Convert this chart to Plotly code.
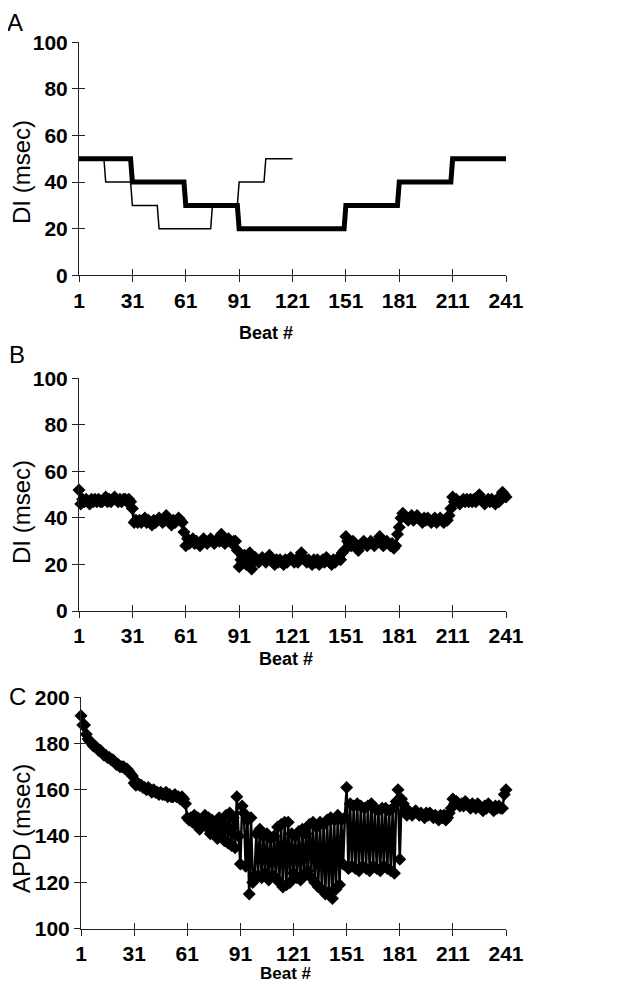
import plotly.graph_objects as go

# ---------------- Panel A: pacing protocol (DI steps) ----------------
protocol_beats = [1, 30, 31, 60, 61, 90, 91, 150, 151, 180, 181, 210, 211, 241]
protocol_di = [50, 50, 40, 40, 30, 30, 20, 20, 30, 30, 40, 40, 50, 50]
short_beats = [1, 15, 16, 30, 31, 45, 46, 75, 76, 90, 91, 105, 106, 121]
short_di = [50, 50, 40, 40, 30, 30, 20, 20, 30, 30, 40, 40, 50, 50]

# ---------------- Panel B: measured DI ----------------
di_measured = (
    [52, 46]
    + [48, 47, 48, 47, 46, 48, 47, 48, 47, 48, 47, 47, 48, 49, 47, 48, 47, 48, 49, 48, 47, 48, 47, 48, 48, 47, 48, 47]
    + [44, 38]
    + [39, 38, 39, 38, 39, 40, 38, 39, 38, 37, 39, 38, 39, 40, 39, 38, 39, 41, 40, 38, 37, 39, 38, 39, 40, 39]
    + [38, 34]
    + [28, 31]
    + [29, 30, 31, 29, 30, 29, 28, 30, 31, 30, 29, 30, 31, 30, 29, 30, 31, 30, 33, 30, 29, 30, 31, 30, 29, 30, 30]
    + [26, 19, 22, 21, 24, 20, 22, 25, 18, 21, 23]
    + [22, 21, 22, 23, 22, 21, 22, 24, 22, 21, 20, 22, 21, 22, 21, 20, 22, 21, 22, 23, 22, 21, 22, 21, 22, 25,
       23, 22, 21, 22, 21, 20, 22, 21, 22, 20, 21, 22, 21, 23, 22, 21, 20, 22, 21, 22, 23]
    + [22, 25, 26, 32, 30]
    + [29, 28, 30, 29, 27, 26, 28, 29, 30, 29, 28, 29, 30, 29, 28, 29, 30, 32, 29, 28, 29, 30, 29, 28, 29]
    + [27, 28, 33, 36, 40, 42, 41]
    + [40, 39, 40, 41, 39, 40, 41, 40, 39, 38, 40, 39, 40, 39, 38, 39, 40, 38, 39, 40, 39, 38, 39]
    + [39, 41, 44, 49, 47]
    + [48, 47, 46, 47, 48, 47, 48, 47, 48, 47, 48, 47, 49, 50, 48, 47, 46, 47, 48, 47, 48, 47, 46, 48]
    + [47, 48, 51, 50, 49]
)

# ---------------- Panel C: measured APD ----------------
apd_measured = (
    [192, 188, 188, 184, 182, 181, 180, 179, 179, 178, 177, 177, 176, 175, 175, 174, 174, 173, 173, 172,
     171, 171, 170, 170, 170, 169, 169, 168, 167, 166, 163, 162]
    + [163, 162, 162, 161, 161, 160, 161, 160, 159, 160, 159, 159, 158, 159, 158, 158, 159, 157, 158, 157,
       157, 158, 157, 157, 156, 157, 156]
    + [154, 148]
    + [147, 148, 146, 149, 145, 148, 143, 147, 146, 149, 144, 148, 141, 147, 143, 146, 139, 148, 142, 147,
       138, 149, 137, 150, 136, 148, 135]
    + [157, 140, 128, 153, 150, 127, 147, 115, 148, 120, 123]
    + [141, 123, 143, 122, 140, 124, 141, 121, 139, 123, 140, 122, 144, 120, 145, 118, 146, 119, 146, 120,
       141, 124, 140, 122, 142, 121, 143, 123, 141, 125, 145, 122, 146, 120, 144, 118, 146, 117, 145, 115,
       147, 116, 148, 113, 147, 117, 149, 119, 147, 128, 148]
    + [161, 126]
    + [154, 127, 153, 126, 154, 125, 153, 127, 152, 126, 153, 125, 154, 127, 152, 126, 151, 125, 152, 127,
       152, 126, 151, 125, 152, 124]
    + [155, 160, 130, 156, 154, 151, 149]
    + [151, 150, 149, 150, 151, 150, 149, 150, 149, 148, 150, 149, 150, 149, 148, 149, 148, 147, 149, 148,
       149, 147]
    + [148, 150, 152, 156, 154]
    + [155, 154, 153, 154, 153, 155, 154, 153, 152, 154, 153, 152, 154, 153, 152, 151, 153, 152, 154, 153,
       152, 151, 153, 152]
    + [153, 152, 152, 158, 160]
)

beats_b = list(range(1, len(di_measured) + 1))
beats_c = list(range(1, len(apd_measured) + 1))

tick_beats = [1, 31, 61, 91, 121, 151, 181, 211, 241]
di_ticks = [0, 20, 40, 60, 80, 100]
apd_ticks = [100, 120, 140, 160, 180, 200]

FONT = "Liberation Sans, Arial, sans-serif"
AXC = "#222222"
# the page body has an 8px margin, so the figure is sized to fill the rest of the window
OFF = 8
W, H = 626 - OFF, 983 - OFF

def px_x(p):
    return (p - OFF) / W

def px_y(p):
    return 1 - (p - OFF) / H

fig = go.Figure()

# Panel A
fig.add_trace(go.Scatter(x=short_beats, y=short_di, mode="lines",
                         line=dict(color="black", width=1.5), xaxis="x", yaxis="y",
                         showlegend=False, cliponaxis=False))
fig.add_trace(go.Scatter(x=protocol_beats, y=protocol_di, mode="lines",
                         line=dict(color="black", width=5), xaxis="x", yaxis="y",
                         showlegend=False, cliponaxis=False))
# Panel B
fig.add_trace(go.Scatter(x=beats_b, y=di_measured, mode="lines+markers",
                         line=dict(color="black", width=3),
                         marker=dict(symbol="diamond", size=10, color="black"),
                         xaxis="x2", yaxis="y2", showlegend=False, cliponaxis=False))
# Panel C
fig.add_trace(go.Scatter(x=beats_c, y=apd_measured, mode="lines+markers",
                         line=dict(color="black", width=2.5),
                         marker=dict(symbol="diamond", size=10, color="black"),
                         xaxis="x3", yaxis="y3", showlegend=False, cliponaxis=False))
# dummy traces so the overlay (inside-tick) axes render
for xa, ya in [("x4", "y4"), ("x5", "y5"), ("x6", "y6")]:
    fig.add_trace(go.Scatter(x=[None], y=[None], xaxis=xa, yaxis=ya, showlegend=False,
                             hoverinfo="skip"))

tickfont = dict(family=FONT, size=21, color="black", weight="bold")

xdom_a = [px_x(79), px_x(506)]
xdom_c = [px_x(81), px_x(506)]
ydom_a = [px_y(275.3), px_y(42.3)]
ydom_b = [px_y(611), px_y(378.3)]
ydom_c = [px_y(928.7), px_y(697.3)]

def xax(dom, anchor):
    return dict(domain=dom, anchor=anchor, range=[1, 241], tickmode="array", tickvals=tick_beats,
                ticktext=[str(t) for t in tick_beats], ticks="outside", ticklen=6, tickwidth=1,
                tickcolor=AXC, showline=True, linecolor=AXC, linewidth=1, showgrid=False,
                zeroline=False, tickfont=tickfont, automargin=False)

def yax(dom, anchor, rng, tv):
    return dict(domain=dom, anchor=anchor, range=rng, tickmode="array", tickvals=tv,
                ticks="outside", ticklen=6, tickwidth=1, tickcolor=AXC, showline=True,
                linecolor=AXC, linewidth=1, showgrid=False, zeroline=False, tickfont=tickfont,
                automargin=False)

def xin(over, anchor):
    return dict(overlaying=over, anchor=anchor, range=[1, 241], tickmode="array",
                tickvals=tick_beats, ticks="inside", ticklen=6, tickwidth=1, tickcolor=AXC,
                showticklabels=False, showline=False, showgrid=False, zeroline=False,
                automargin=False)

def yin(over, anchor, rng, tv):
    return dict(overlaying=over, anchor=anchor, range=rng, tickmode="array", tickvals=tv,
                ticks="inside", ticklen=6, tickwidth=1, tickcolor=AXC, showticklabels=False,
                showline=False, showgrid=False, zeroline=False, automargin=False)

annotations = []
def ann(text, x, y, size, bold=False, angle=0, yanchor="middle"):
    annotations.append(dict(text=text, x=px_x(x), y=px_y(y), xref="paper", yref="paper",
                            showarrow=False, textangle=angle, xanchor="center", yanchor=yanchor,
                            font=dict(family=FONT, size=size, color="black",
                                      weight="bold" if bold else "normal")))

ann("A", 15, 23, 24)
ann("B", 17, 354, 24)
ann("C", 17, 696, 24)
ann("DI (msec)", 21, 172, 24, angle=-90)
ann("DI (msec)", 21, 512, 24, angle=-90)
ann("APD (msec)", 21, 829, 24, angle=-90)
ann("Beat #", 266, 333, 18, bold=True)
ann("Beat #", 286, 659, 18, bold=True)
ann("Beat #", 286, 973, 17, bold=True)

fig.update_layout(
    width=W, height=H,
    margin=dict(l=0, r=0, t=0, b=0, autoexpand=False),
    paper_bgcolor="white", plot_bgcolor="white",
    xaxis=xax(xdom_a, "y"), yaxis=yax(ydom_a, "x", [0, 100], di_ticks),
    xaxis2=xax(xdom_a, "y2"), yaxis2=yax(ydom_b, "x2", [0, 100], di_ticks),
    xaxis3=xax(xdom_c, "y3"), yaxis3=yax(ydom_c, "x3", [100, 200], apd_ticks),
    xaxis4=xin("x", "y"), yaxis4=yin("y", "x", [0, 100], di_ticks),
    xaxis5=xin("x2", "y2"), yaxis5=yin("y2", "x2", [0, 100], di_ticks),
    xaxis6=xin("x3", "y3"), yaxis6=yin("y3", "x3", [100, 200], apd_ticks),
    annotations=annotations,
    showlegend=False,
)

fig.write_html("out.html")
